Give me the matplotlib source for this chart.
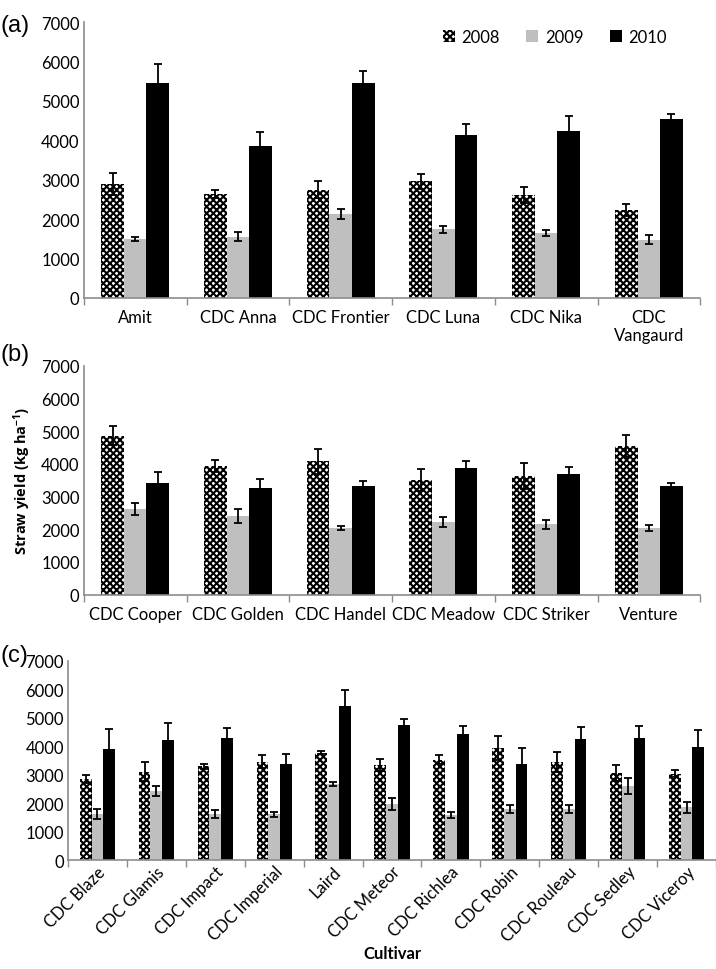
import matplotlib
matplotlib.use("Agg")
import matplotlib.pyplot as plt
import numpy as np

plt.rcParams["font.family"] = ["Lato", "DejaVu Sans"]
plt.rcParams["mathtext.default"] = "regular"
plt.rcParams["hatch.linewidth"] = 1.5

years = ["2008", "2009", "2010"]

# (a)
cult_a = ["Amit", "CDC Anna", "CDC Frontier", "CDC Luna", "CDC Nika", "CDC\nVangaurd"]
a_2008 = [2890, 2640, 2750, 2960, 2610, 2220]
a_2009 = [1490, 1550, 2120, 1740, 1650, 1475]
a_2010 = [5460, 3855, 5450, 4125, 4245, 4540]
a_err08 = [290, 100, 210, 195, 195, 150]
a_err09 = [50, 120, 130, 95, 75, 120]
a_err10 = [480, 360, 320, 280, 370, 135]

# (b)
cult_b = ["CDC Cooper", "CDC Golden", "CDC Handel", "CDC Meadow", "CDC Striker", "Venture"]
b_2008 = [4860, 3945, 4080, 3510, 3630, 4545]
b_2009 = [2625, 2400, 2025, 2230, 2145, 2035]
b_2010 = [3400, 3265, 3315, 3875, 3700, 3315]
b_err08 = [285, 185, 385, 345, 405, 335]
b_err09 = [185, 205, 60, 155, 140, 90]
b_err10 = [355, 265, 150, 215, 215, 110]

# (c)
cult_c = ["CDC Blaze", "CDC Glamis", "CDC Impact", "CDC Imperial", "Laird", "CDC Meteor",
          "CDC Richlea", "CDC Robin", "CDC Rouleau", "CDC Sedley", "CDC Viceroy"]
c_2008 = [2860, 3105, 3295, 3455, 3775, 3330, 3530, 3925, 3445, 3065, 3040]
c_2009 = [1630, 2425, 1630, 1615, 2660, 1980, 1605, 1805, 1800, 2590, 1865]
c_2010 = [3890, 4220, 4280, 3385, 5395, 4725, 4430, 3365, 4265, 4290, 3970]
c_err08 = [140, 340, 80, 220, 50, 210, 150, 420, 350, 280, 130]
c_err09 = [175, 165, 140, 95, 70, 200, 105, 140, 140, 280, 195]
c_err10 = [700, 600, 340, 330, 575, 210, 280, 585, 420, 410, 600]

axis_grey = "#8c8c8c"


def draw_panel(ax, cats, vals, errs, width, fs):
    x = np.arange(len(cats))
    styles = [dict(color="white", edgecolor="black", hatch="xxxxx", linewidth=0),
              dict(color="#bfbfbf", linewidth=0),
              dict(color="black", linewidth=0)]
    bars = []
    for i in range(3):
        b = ax.bar(x + (i - 1) * width, vals[i], width, label=years[i], **styles[i])
        ax.errorbar(x + (i - 1) * width, vals[i], yerr=errs[i], fmt="none",
                    ecolor="black", elinewidth=1.3, capsize=3, capthick=1.3)
        bars.append(b)
    ax.set_xlim(-0.5, len(cats) - 0.5)
    ax.set_ylim(0, 7000)
    ax.set_yticks(np.arange(0, 7001, 1000))
    ax.set_xticks(x)
    ax.set_xticks(np.arange(-0.5, len(cats), 1), minor=True)
    ax.tick_params(axis="x", which="major", length=0, labelsize=fs, pad=8)
    ax.tick_params(axis="x", which="minor", length=5, color=axis_grey, width=1)
    ax.tick_params(axis="y", length=0, labelsize=fs, pad=3)
    for s in ["top", "right"]:
        ax.spines[s].set_visible(False)
    for s in ["left", "bottom"]:
        ax.spines[s].set_color(axis_grey)
        ax.spines[s].set_linewidth(1.2)
    return bars


fig = plt.figure(figsize=(7.16, 9.7), dpi=100)

ax1 = fig.add_axes([0.117, 0.692, 0.861, 0.284])
bars = draw_panel(ax1, cult_a, [a_2008, a_2009, a_2010], [a_err08, a_err09, a_err10], 0.22, 12)
ax1.set_xticklabels(cult_a, va="top")
ax1.legend(handles=bars, ncol=3, frameon=False, fontsize=12, loc="upper right",
           bbox_to_anchor=(0.97, 1.03), handlelength=0.7, handleheight=0.7,
           handletextpad=0.4, columnspacing=1.6)

ax2 = fig.add_axes([0.117, 0.386, 0.861, 0.236])
draw_panel(ax2, cult_b, [b_2008, b_2009, b_2010], [b_err08, b_err09, b_err10], 0.22, 12)
ax2.set_xticklabels(cult_b)
ax2.set_ylabel("Straw yield (kg ha$^{-1}$)", fontsize=10.5, fontweight="bold",
               family="Open Sans", labelpad=6)

ax3 = fig.add_axes([0.095, 0.112, 0.905, 0.206])
draw_panel(ax3, cult_c, [c_2008, c_2009, c_2010], [c_err08, c_err09, c_err10], 0.2, 12)
ax3.set_xticklabels(cult_c, rotation=45, ha="right", rotation_mode="anchor")
ax3.tick_params(axis="x", which="major", pad=2)
ax3.set_xlabel("Cultivar", fontsize=12, fontweight="bold", labelpad=1)

for lab, yy in [("(a)", 0.985), ("(b)", 0.645), ("(c)", 0.335)]:
    fig.text(0.0, yy, lab, fontsize=17, family="Liberation Sans", va="top", ha="left")

fig.savefig("out.png", dpi=100)
